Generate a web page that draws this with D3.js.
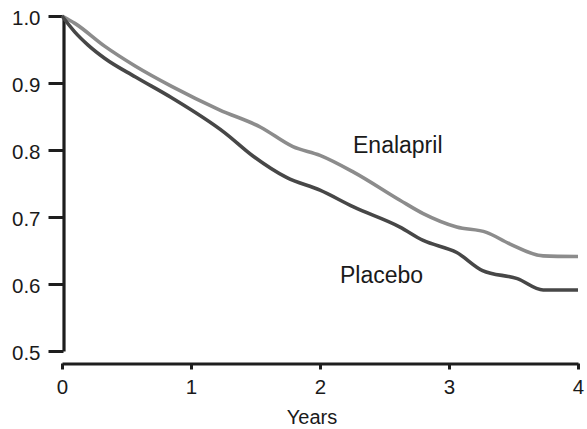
<!DOCTYPE html>
<html><head><meta charset="utf-8">
<script src="https://cdn.jsdelivr.net/npm/d3@7"></script>
<style>
body{margin:0;background:#fff;}
svg{display:block;font-family:"Liberation Sans",Arial,Helvetica,sans-serif;}
</style></head>
<body>
<svg id="chart" width="587" height="429"></svg>
<script>
const enalaprilYears = [0, 0.10, 0.33, 0.57, 0.85, 1.22, 1.54, 1.79, 2.0, 2.26, 2.62, 2.80, 3.06, 3.29, 3.47, 3.73, 4.0];
const enalaprilValues = [1.0, 0.989, 0.955, 0.925, 0.895, 0.860, 0.834, 0.805, 0.792, 0.767, 0.725, 0.705, 0.685, 0.677, 0.660, 0.642, 0.641];
const placeboYears = [0, 0.10, 0.20, 0.33, 0.57, 0.85, 1.26, 1.48, 1.74, 2.0, 2.26, 2.62, 2.80, 3.06, 3.26, 3.53, 3.73, 4.0];
const placeboValues = [1.0, 0.976, 0.957, 0.937, 0.909, 0.878, 0.826, 0.791, 0.759, 0.740, 0.715, 0.685, 0.665, 0.647, 0.620, 0.608, 0.591, 0.591];
const xTicks = [0, 1, 2, 3, 4];
const yTicks = [0.5, 0.6, 0.7, 0.8, 0.9, 1.0];
const seriesNames = ["Enalapril", "Placebo"];
const xTitle = "Years";

const svg = d3.select("#chart");
const x = d3.scaleLinear().domain([0, 4]).range([62, 578]);
const y = d3.scaleLinear().domain([0.5, 1.0]).range([351, 16]);
const axisColor = "#1e1e1e";

// y axis
const gy = svg.append("g").attr("transform", "translate(63.5,0)")
  .call(d3.axisLeft(y).tickValues(yTicks).tickFormat(d3.format(".1f"))
    .tickSize(15).tickSizeOuter(0).tickPadding(8));
// x axis
const gx = svg.append("g").attr("transform", "translate(0,363.5)")
  .call(d3.axisBottom(x).tickValues(xTicks).tickFormat(d3.format("d"))
    .tickSize(6).tickSizeOuter(0).tickPadding(10));
[gx, gy].forEach(g => {
  g.select(".domain").attr("stroke", axisColor).attr("stroke-width", 3.2);
  g.selectAll(".tick line").attr("stroke", axisColor).attr("stroke-width", 3);
  g.selectAll(".tick text").attr("fill", "#1a1a1a").attr("font-size", 20.5)
    .attr("font-family", "Liberation Sans, Arial, sans-serif");
});
gy.selectAll(".tick text").attr("dy", "0.42em");

svg.append("text").attr("x", 312).attr("y", 424).attr("text-anchor", "middle")
  .attr("font-size", 20).attr("fill", "#1a1a1a").text(xTitle);

const line = d3.line().x(d => x(d[0])).y(d => y(d[1])).curve(d3.curveMonotoneX);
const enal = enalaprilYears.map((t, i) => [t, enalaprilValues[i]]);
const plac = placeboYears.map((t, i) => [t, placeboValues[i]]);

svg.append("path").datum(enal).attr("d", line).attr("fill", "none")
  .attr("stroke", "#8c8c8c").attr("stroke-width", 3.6).attr("stroke-linejoin", "round");
svg.append("path").datum(plac).attr("d", line).attr("fill", "none")
  .attr("stroke", "#474747").attr("stroke-width", 3.6).attr("stroke-linejoin", "round");

svg.append("text").attr("x", 353).attr("y", 152.5).attr("font-size", 23)
  .attr("fill", "#1a1a1a").text(seriesNames[0]);
svg.append("text").attr("x", 340).attr("y", 282.5).attr("font-size", 23)
  .attr("fill", "#1a1a1a").text(seriesNames[1]);
</script>
</body></html>
